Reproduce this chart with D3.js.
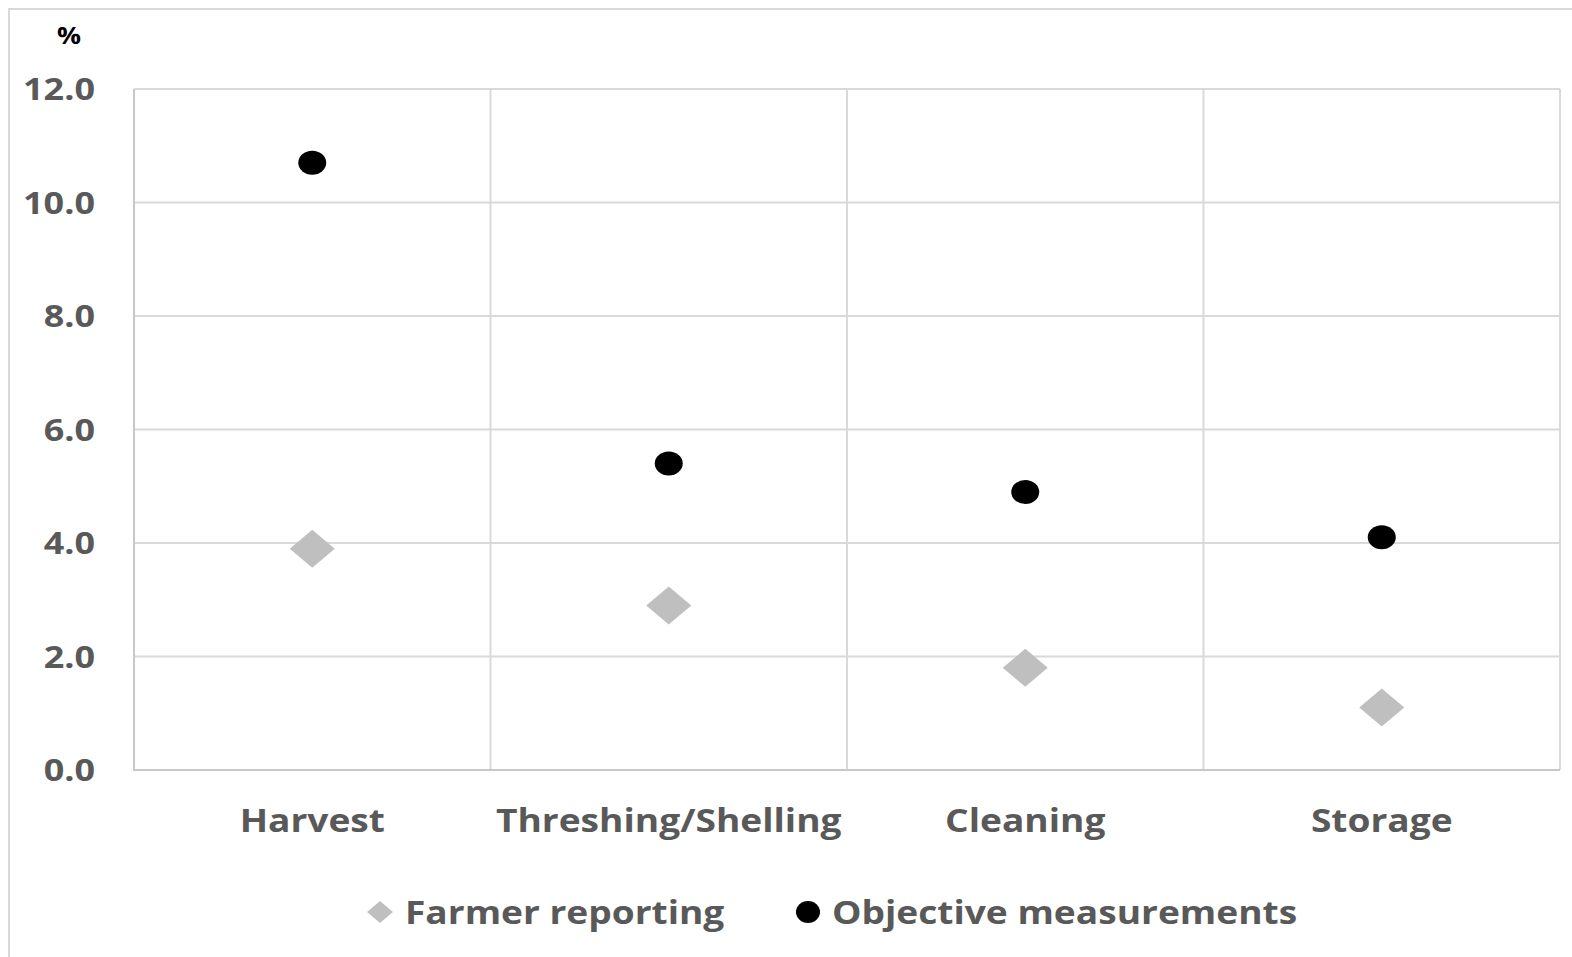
<!DOCTYPE html>
<html>
<head>
<meta charset="utf-8">
<script src="https://cdn.jsdelivr.net/npm/d3@7"></script>
<style>
  html, body { margin: 0; padding: 0; background: #fff; }
  svg { display: block; }
  text { font-family: "Open Sans", sans-serif; font-weight: 700; }
</style>
</head>
<body>
<svg id="chart" width="1572" height="957"></svg>
<script>
// Post-harvest loss stages and the two loss estimates (%)
const categories = ["Harvest", "Threshing/Shelling", "Cleaning", "Storage"];
const farmerReporting = [3.9, 2.9, 1.8, 1.1];
const objectiveMeasurements = [10.7, 5.4, 4.9, 4.1];
const yTicks = [0, 2, 4, 6, 8, 10, 12];
const seriesNames = ["Farmer reporting", "Objective measurements"];

const svg = d3.select("#chart");
const plot = { left: 134, right: 1560, top: 89, bottom: 770 };

const x = d3.scaleBand().domain(categories).range([plot.left, plot.right]).padding(0);
const y = d3.scaleLinear().domain([0, 12]).range([plot.bottom, plot.top]);

const gridColor = "#d9d9d9";
const textColor = "#595959";
const stretch = "scale(1.16,1)"; // wide lettering

// outer frame (left and top edges)
svg.append("path")
  .attr("d", `M9,957 L9,9 L1572,9`)
  .attr("fill", "none").attr("stroke", "#d9d9d9").attr("stroke-width", 2);

// horizontal gridlines
svg.append("g")
  .selectAll("line").data(yTicks).join("line")
  .attr("x1", plot.left).attr("x2", plot.right)
  .attr("y1", d => y(d)).attr("y2", d => y(d))
  .attr("stroke", gridColor).attr("stroke-width", 2);

// vertical gridlines at category boundaries
const bounds = categories.map(c => x(c)).concat([x(categories[categories.length - 1]) + x.bandwidth()]);
svg.append("g")
  .selectAll("line").data(bounds).join("line")
  .attr("x1", d => d).attr("x2", d => d)
  .attr("y1", plot.top).attr("y2", plot.bottom)
  .attr("stroke", gridColor).attr("stroke-width", 2);

// axis border (left and bottom slightly darker)
svg.append("path")
  .attr("d", `M${plot.left},${plot.top} L${plot.left},${plot.bottom} L${plot.right},${plot.bottom}`)
  .attr("fill", "none").attr("stroke", "#c8c8c8").attr("stroke-width", 2);

// y axis labels
const yAxis = d3.axisLeft(y).tickValues(yTicks).tickFormat(d3.format(".1f")).tickSize(0).tickPadding(0);
const yg = svg.append("g").attr("transform", `translate(95,0)`).call(yAxis);
yg.select(".domain").remove();
yg.selectAll("text")
  .attr("fill", textColor)
  .attr("transform", stretch)
  .style("font-size", "31px")
  .style("font-family", "'Open Sans', sans-serif")
  .style("font-weight", 700)
  .attr("dy", "0.35em");

// unit label
svg.append("text").attr("transform", `translate(69,44) ${stretch}`).attr("text-anchor", "middle")
  .attr("fill", "#000").style("font-size", "23px").text("%");

// x axis labels
const xAxis = d3.axisBottom(x).tickSize(0).tickPadding(0);
const xg = svg.append("g").attr("transform", `translate(0,${plot.bottom})`).call(xAxis);
xg.select(".domain").remove();
xg.selectAll("text")
  .attr("fill", textColor)
  .attr("y", 62).attr("dy", 0)
  .attr("transform", stretch)
  .style("font-size", "32px")
  .style("font-family", "'Open Sans', sans-serif")
  .style("font-weight", 700);

const cx = d => x(d) + x.bandwidth() / 2;
const diamond = (w, h) => `M0,${-h / 2} L${w / 2},0 L0,${h / 2} L${-w / 2},0 Z`;

// farmer reporting: grey diamonds
svg.append("g").selectAll("path")
  .data(categories.map((c, i) => ({ c, v: farmerReporting[i] })))
  .join("path")
  .attr("transform", d => `translate(${cx(d.c)},${y(d.v)})`)
  .attr("d", diamond(45, 38))
  .attr("fill", "#bfbfbf");

// objective measurements: black circles
svg.append("g").selectAll("ellipse")
  .data(categories.map((c, i) => ({ c, v: objectiveMeasurements[i] })))
  .join("ellipse")
  .attr("cx", d => cx(d.c)).attr("cy", d => y(d.v))
  .attr("rx", 14).attr("ry", 12)
  .attr("fill", "#000");

// legend
const legend = svg.append("g");
legend.append("path").attr("transform", "translate(380,912)").attr("d", diamond(26, 22)).attr("fill", "#bfbfbf");
legend.append("text").attr("transform", `translate(405,924) ${stretch}`).attr("fill", textColor).style("font-size", "32px").text(seriesNames[0]);
legend.append("ellipse").attr("cx", 808).attr("cy", 912).attr("rx", 12).attr("ry", 11).attr("fill", "#000");
legend.append("text").attr("transform", `translate(832,924) ${stretch}`).attr("fill", textColor).style("font-size", "32px").text(seriesNames[1]);
</script>
</body>
</html>
